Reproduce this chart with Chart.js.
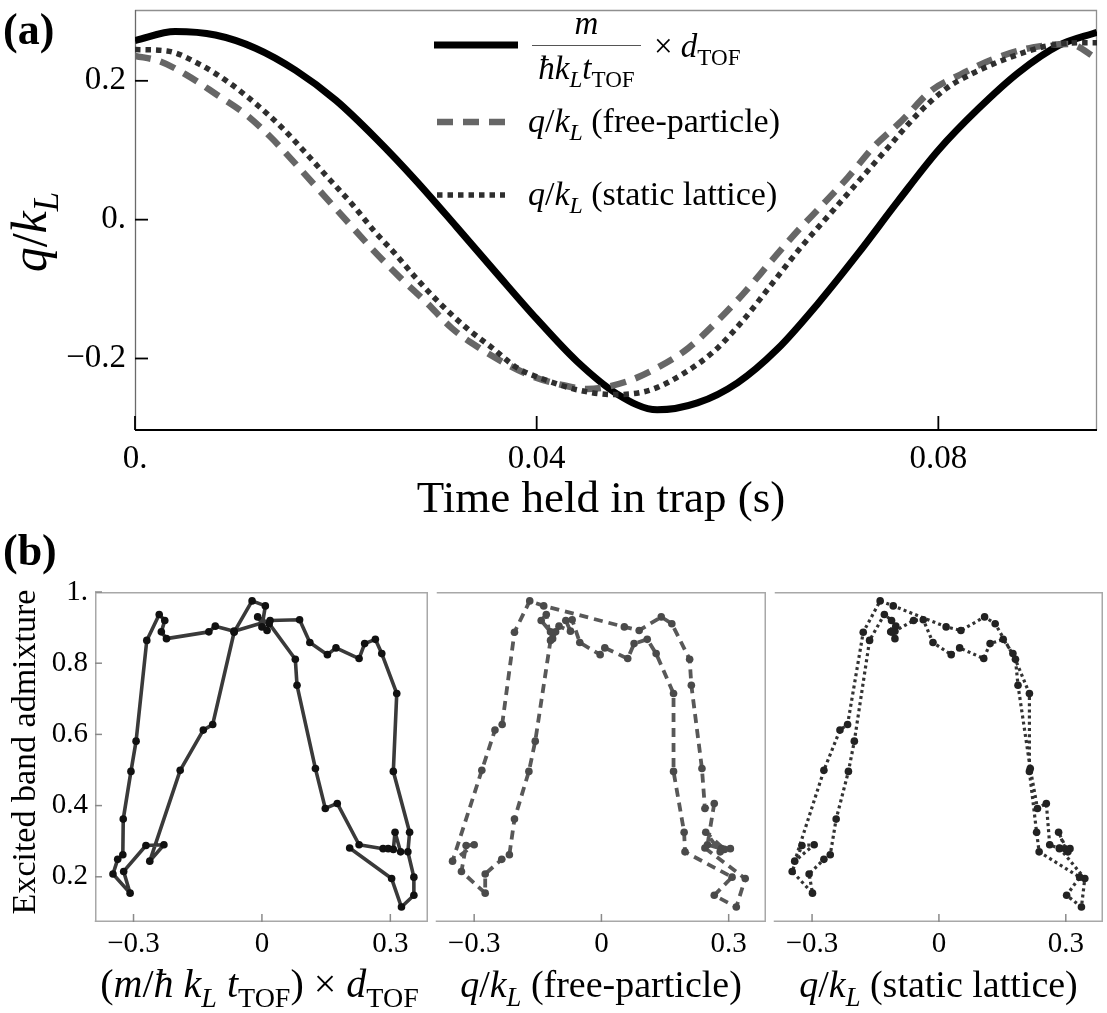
<!DOCTYPE html>
<html>
<head>
<meta charset="utf-8">
<script src="https://cdn.jsdelivr.net/npm/chart.js@4.4.1/dist/chart.umd.min.js"></script>
<style>
  html, body { margin: 0; padding: 0; background: #fff; }
  #figure { position: relative; width: 1107px; height: 1013px; overflow: hidden; background: #fff; }
  #figure canvas { position: absolute; }
</style>
</head>
<body>
<div id="figure">
  <canvas id="panelA"></canvas>
  <canvas id="panelB1"></canvas>
  <canvas id="panelB2"></canvas>
  <canvas id="panelB3"></canvas>
</div>
<script>
// ---------- (a) quasimomentum versus hold time ----------
const tofTime = [0, 0.004, 0.008, 0.012, 0.016, 0.020, 0.024, 0.028, 0.032, 0.036, 0.040, 0.044, 0.048,
  0.052, 0.056, 0.060, 0.064, 0.068, 0.072, 0.076, 0.080, 0.084, 0.088, 0.092, 0.0958];
const tofQ = [0.258, 0.271, 0.266, 0.247, 0.215, 0.172, 0.117, 0.056, -0.010, -0.077, -0.143, -0.204, -0.251,
  -0.274, -0.264, -0.235, -0.186, -0.121, -0.049, 0.027, 0.100, 0.160, 0.212, 0.251, 0.270];

const freeTime = [0, 0.0025, 0.00495, 0.00815, 0.011, 0.0135, 0.0162, 0.0188, 0.0211, 0.0236, 0.0263, 0.029,
  0.0316, 0.0343, 0.037, 0.0398, 0.0425, 0.045, 0.049, 0.0523, 0.0551, 0.058, 0.0605, 0.0634, 0.066, 0.0685,
  0.071, 0.0735, 0.0764, 0.0793, 0.0822, 0.0854, 0.0894, 0.093, 0.0958];
const freeQ = [0.236, 0.228, 0.210, 0.180, 0.152, 0.119, 0.077, 0.035, -0.002, -0.042, -0.082, -0.119,
  -0.157, -0.185, -0.208, -0.227, -0.238, -0.244, -0.233, -0.211, -0.185, -0.146, -0.108, -0.059, -0.016, 0.022,
  0.061, 0.104, 0.143, 0.186, 0.209, 0.231, 0.248, 0.253, 0.232];

const latticeTime = [0, 0.0032, 0.0064, 0.0092, 0.0121, 0.0146, 0.017, 0.0195, 0.0217, 0.0238, 0.0259, 0.0281,
  0.0306, 0.0331, 0.0356, 0.038, 0.0409, 0.044, 0.0476, 0.0512, 0.0548, 0.0577, 0.0605, 0.0634, 0.0663, 0.0692,
  0.0721, 0.075, 0.0778, 0.0807, 0.0836, 0.0872, 0.0908, 0.0944, 0.0958];
const latticeQ = [0.245, 0.243, 0.224, 0.199, 0.166, 0.133, 0.096, 0.056, 0.021, -0.016, -0.049, -0.086,
  -0.124, -0.157, -0.185, -0.213, -0.231, -0.245, -0.252, -0.246, -0.220, -0.189, -0.146, -0.093, -0.040, 0.008,
  0.056, 0.104, 0.150, 0.188, 0.212, 0.234, 0.250, 0.255, 0.255];

const timeTicks = [0, 0.04, 0.08];
const timeTickLabels = ['0.', '0.04', '0.08'];
const qTicks = [-0.2, 0, 0.2];
const qTickLabels = ['\u22120.2', '0.', '0.2'];

// ---------- (b) excited band admixture, one value per hold time ----------
const admixture = [0.281, 0.195, 0.115, 0.148, 0.199, 0.270, 0.325, 0.496, 0.715, 0.827, 0.867, 0.855, 0.813,
  0.843, 0.824, 0.858, 0.922, 0.920, 0.890, 0.904, 0.888, 0.869, 0.888, 0.920, 0.937, 0.864, 0.581, 0.496,
  0.362, 0.262, 0.249, 0.208, 0.154, 0.215, 0.288, 0.290, 0.244, 0.499, 0.612, 0.628, 0.887, 0.975, 0.961,
  0.902, 0.892, 0.930, 0.911, 0.811, 0.738, 0.504, 0.392, 0.406, 0.290, 0.279, 0.279, 0.277, 0.325, 0.270];
const tofMomentum = [0.205, 0.303, 0.326, 0.355, 0.355, 0.341, 0.345, 0.307, 0.315, 0.280, 0.265, 0.240, 0.227,
  0.173, 0.153, 0.112, 0.088, 0.019, -0.065, -0.109, -0.124, -0.223, -0.235, -0.227, -0.240, -0.269, -0.294, -0.306,
  -0.324, -0.325, -0.337, -0.348, -0.308, -0.323, -0.271, -0.229, -0.262, -0.191, -0.137, -0.115, -0.065, -0.023, 0.008,
  0.000, 0.012, -0.010, 0.017, 0.078, 0.082, 0.125, 0.148, 0.176, 0.227, 0.283, 0.295, 0.307, 0.311, 0.324];
const freeMomentum = [0.244, 0.339, 0.318, 0.266, 0.308, 0.197, 0.195, 0.170, 0.170, 0.129, 0.108, 0.077, 0.062,
  0.008, -0.003, -0.051, -0.069, -0.084, -0.073, -0.100, -0.108, -0.115, -0.120, -0.142, -0.130, -0.120, -0.156, -0.171,
  -0.205, -0.217, -0.235, -0.274, -0.274, -0.330, -0.319, -0.300, -0.351, -0.282, -0.251, -0.234, -0.205, -0.169, -0.136,
  0.054, 0.089, 0.141, 0.166, 0.208, 0.212, 0.237, 0.244, 0.266, 0.250, 0.283, 0.304, 0.290, 0.246, 0.280];
const latticeMomentum = [0.285, 0.345, 0.337, 0.302, 0.333, 0.237, 0.231, 0.214, 0.214, 0.175, 0.152, 0.121, 0.106,
  0.049, 0.029, -0.014, -0.037, -0.060, -0.104, -0.102, -0.114, -0.104, -0.112, -0.112, -0.129, -0.164, -0.200, -0.214,
  -0.243, -0.257, -0.272, -0.307, -0.299, -0.347, -0.324, -0.295, -0.341, -0.272, -0.234, -0.216, -0.179, -0.139, -0.108,
  0.017, 0.052, 0.108, 0.133, 0.181, 0.187, 0.216, 0.233, 0.254, 0.262, 0.285, 0.310, 0.300, 0.283, 0.305];

const momentumTicks = [-0.3, 0, 0.3];
const momentumTickLabels = ['\u22120.3', '0', '0.3'];
const admixtureTicks = [0.2, 0.4, 0.6, 0.8, 1.0];
const admixtureTickLabels = ['0.2', '0.4', '0.6', '0.8', '1.'];

// ---------- helpers ----------
const SERIF = '"Liberation Serif", "Times New Roman", serif';

function pairs(xs, ys) { return xs.map((x, i) => ({ x, y: ys[i] })); }

// Draws a run of text pieces: [text, style] where style may contain
// 'i' (italic), 's' (subscript) and 'b' (bold). Returns the total width.
function drawRuns(ctx, runs, x, y, size, align) {
  const parts = runs.map(([t, st]) => {
    const sub = st.includes('s');
    const fs = sub ? size * 0.7 : size;
    const font = (st.includes('i') ? 'italic ' : '') + (st.includes('b') ? 'bold ' : '') + fs + 'px ' + SERIF;
    ctx.font = font;
    return { t, font, w: ctx.measureText(t).width, dy: sub ? size * 0.24 : 0 };
  });
  const total = parts.reduce((s, p) => s + p.w, 0);
  let cx = align === 'center' ? x - total / 2 : align === 'right' ? x - total : x;
  ctx.textAlign = 'left';
  ctx.textBaseline = 'alphabetic';
  ctx.fillStyle = '#000';
  for (const p of parts) { ctx.font = p.font; ctx.fillText(p.t, cx, y + p.dy); cx += p.w; }
  return total;
}

function seg(ctx, x1, y1, x2, y2) { ctx.beginPath(); ctx.moveTo(x1, y1); ctx.lineTo(x2, y2); ctx.stroke(); }

function placeCanvas(id, left, top, w, h) {
  const c = document.getElementById(id);
  c.width = w; c.height = h;
  c.style.left = left + 'px'; c.style.top = top + 'px';
  c.style.width = w + 'px'; c.style.height = h + 'px';
  return c;
}

Chart.defaults.animation = false;
Chart.defaults.font.family = SERIF;
Chart.defaults.color = '#000';

// ---------- (a) ----------
const qRuns = [['q', 'i'], ['/', ''], ['k', 'i'], ['L', 'is']];

const panelADecor = {
  id: 'panelADecor',
  beforeDatasetsDraw(chart) {
    const { ctx, chartArea: a, scales: { x, y } } = chart;
    ctx.save();
    ctx.lineCap = 'butt';
    ctx.strokeStyle = '#8f8f8f'; ctx.lineWidth = 1.3;
    ctx.beginPath(); ctx.moveTo(a.left, a.top + 0.5); ctx.lineTo(a.right - 0.5, a.top + 0.5); ctx.lineTo(a.right - 0.5, a.bottom); ctx.stroke();
    ctx.strokeStyle = '#6a6a6a'; ctx.lineWidth = 1.3;
    seg(ctx, a.left + 0.5, a.top, a.left + 0.5, a.bottom);
    ctx.strokeStyle = '#000'; ctx.lineWidth = 1.8;
    seg(ctx, a.left, a.bottom, a.right, a.bottom);
    for (const v of qTicks) { const py = y.getPixelForValue(v); seg(ctx, a.left, py, a.left + 13, py); }
    for (const v of timeTicks) { const px = x.getPixelForValue(v); seg(ctx, px, a.bottom, px, a.bottom - 14); }
    ctx.restore();
  },
  afterDraw(chart) {
    const { ctx } = chart;
    const ds = chart.data.datasets;
    ctx.save();
    drawRuns(ctx, [['(a)', 'b']], 3, 44, 44, 'left');
    // axis titles
    drawRuns(ctx, [['Time held in trap (s)', '']], 601, 512, 45, 'center');
    ctx.save();
    ctx.translate(46, 232); ctx.rotate(-Math.PI / 2);
    drawRuns(ctx, qRuns, 0, 0, 50, 'center');
    ctx.restore();
    // legend: line samples drawn with each series' own style
    const rows = [
      { d: ds.find(s => s.key === 'tof'), x1: 434, x2: 518, y: 45 },
      { d: ds.find(s => s.key === 'free'), x1: 437, x2: 505, y: 122 },
      { d: ds.find(s => s.key === 'lattice'), x1: 437, x2: 505, y: 195 }
    ];
    for (const r of rows) {
      ctx.strokeStyle = r.d.borderColor; ctx.lineWidth = r.d.borderWidth;
      ctx.setLineDash(r.d.borderDash || []); ctx.lineCap = 'butt';
      seg(ctx, r.x1, r.y, r.x2, r.y);
    }
    ctx.setLineDash([]);
    // fraction  m / (ħ k_L t_TOF)  × d_TOF
    const fs = 33;
    const denom = [['\u0127', 'i'], ['k', 'i'], ['L', 'is'], ['t', 'i'], ['TOF', 's']];
    const barL = 532, barR = 641;
    ctx.strokeStyle = '#555'; ctx.lineWidth = 1.2;
    seg(ctx, barL, 45.5, barR, 45.5);
    drawRuns(ctx, [['m', 'i']], (barL + barR) / 2, 34, fs, 'center');
    drawRuns(ctx, denom, (barL + barR) / 2, 79, fs, 'center');
    drawRuns(ctx, [['\u00d7 ', ''], ['d', 'i'], ['TOF', 's']], 654, 57, fs, 'left');
    drawRuns(ctx, qRuns.concat([[' (free-particle)', '']]), 528, 132, 34, 'left');
    drawRuns(ctx, qRuns.concat([[' (static lattice)', '']]), 528, 205, 34, 'left');
    ctx.restore();
  }
};

placeCanvas('panelA', 0, 0, 1107, 530);
new Chart(document.getElementById('panelA'), {
  type: 'scatter',
  data: {
    datasets: [
      { key: 'lattice', data: pairs(latticeTime, latticeQ), showLine: true, pointRadius: 0,
        borderColor: '#2e2e2e', borderWidth: 5.5, borderDash: [5.5, 5], cubicInterpolationMode: 'monotone' },
      { key: 'free', data: pairs(freeTime, freeQ), showLine: true, pointRadius: 0,
        borderColor: '#666666', borderWidth: 6.5, borderDash: [16, 10], cubicInterpolationMode: 'monotone' },
      { key: 'tof', data: pairs(tofTime, tofQ), showLine: true, pointRadius: 0,
        borderColor: '#000000', borderWidth: 7, cubicInterpolationMode: 'monotone' }
    ]
  },
  options: {
    responsive: false,
    layout: { padding: { left: 0, right: 10, top: 10, bottom: 0 } },
    plugins: { legend: { display: false }, tooltip: { enabled: false } },
    scales: {
      x: {
        type: 'linear', min: 0, max: 0.0958,
        grid: { display: false, drawTicks: false }, border: { display: false },
        afterBuildTicks: s => { s.ticks = timeTicks.map(v => ({ value: v })); },
        afterFit: s => { s.height = 100; },
        ticks: { autoSkip: false, maxRotation: 0, padding: 10, color: '#000',
          font: { size: 33, family: SERIF },
          callback: v => timeTickLabels[timeTicks.indexOf(v)] }
      },
      y: {
        type: 'linear', min: -0.303, max: 0.302,
        grid: { display: false, drawTicks: false }, border: { display: false },
        afterBuildTicks: s => { s.ticks = qTicks.map(v => ({ value: v })); },
        afterFit: s => { s.width = 135; s.paddingTop = 0; s.paddingBottom = 0; },
        ticks: { autoSkip: false, padding: 9, color: '#000',
          font: { size: 33, family: SERIF, lineHeight: 0.05 },
          callback: v => qTickLabels[qTicks.indexOf(v)] }
      }
    }
  },
  plugins: [panelADecor]
});

// ---------- (b) ----------
function panelBDecor(opts) {
  return {
    id: 'panelBDecor',
    beforeDatasetsDraw(chart) {
      const { ctx, chartArea: a, scales: { x, y } } = chart;
      ctx.save();
      ctx.strokeStyle = '#a8a8a8'; ctx.lineWidth = 1.5;
      const L = a.left + 0.75, R = a.right - 0.75, T = a.top + 0.75, B = a.bottom - 0.75;
      ctx.beginPath();
      ctx.moveTo(L, T); ctx.lineTo(R, T); ctx.lineTo(R, B); ctx.lineTo(L - 1, B);
      if (opts.showY) { ctx.moveTo(L, T); ctx.lineTo(L, B); }
      ctx.stroke();
      ctx.strokeStyle = '#8a8a8a'; ctx.lineWidth = 1.5;
      for (const v of momentumTicks) { const px = x.getPixelForValue(v); seg(ctx, px, a.bottom, px, a.bottom - 8); }
      if (opts.showY) {
        for (const v of admixtureTicks) { const py = y.getPixelForValue(v); seg(ctx, a.left, py, a.left + 7, py); }
      }
      ctx.restore();
    },
    afterDraw(chart) {
      const { ctx, chartArea: a } = chart;
      ctx.save();
      drawRuns(ctx, opts.title, (a.left + a.right) / 2 + (opts.shift || 0), 472, opts.size || 38, 'center');
      if (opts.showY) {
        drawRuns(ctx, [['(b)', 'b']], 3, 40, 44, 'left');
        ctx.save();
        ctx.translate(35, 227); ctx.rotate(-Math.PI / 2);
        drawRuns(ctx, [['Excited band admixture', '']], 0, 0, 34, 'center');
        ctx.restore();
      }
      ctx.restore();
    }
  };
}

function makePanelB(id, left, width, xs, style, deco) {
  const showY = deco.showY;
  placeCanvas(id, left, 525, width, 488);
  return new Chart(document.getElementById(id), {
    type: 'scatter',
    data: {
      datasets: [{
        data: pairs(xs, admixture), showLine: true, tension: 0,
        borderColor: style.line, borderWidth: style.width, borderDash: style.dash,
        borderJoinStyle: 'round', borderCapStyle: 'butt',
        pointRadius: 3.8, pointBackgroundColor: style.point, pointBorderWidth: 0
      }]
    },
    options: {
      responsive: false,
      layout: { padding: { left: 0, right: 0, top: 67, bottom: 0 } },
      plugins: { legend: { display: false }, tooltip: { enabled: false } },
      scales: {
        x: {
          type: 'linear', min: -0.39, max: 0.388,
          grid: { display: false, drawTicks: false }, border: { display: false },
          afterBuildTicks: s => { s.ticks = momentumTicks.map(v => ({ value: v })); },
          afterFit: s => { s.height = 91; },
          ticks: { autoSkip: false, maxRotation: 0, padding: 5, color: '#000',
            font: { size: 29, family: SERIF },
            callback: v => momentumTickLabels[momentumTicks.indexOf(v)] }
        },
        y: {
          type: 'linear', min: 0.073, max: 1.0, display: showY,
          grid: { display: false, drawTicks: false }, border: { display: false },
          afterBuildTicks: s => { s.ticks = admixtureTicks.map(v => ({ value: v })); },
          afterFit: s => { s.width = showY ? 95 : 0; },
          ticks: { autoSkip: false, padding: 7, color: '#000',
            font: { size: 29, family: SERIF },
            callback: v => admixtureTickLabels[admixtureTicks.indexOf(v)] }
        }
      }
    },
    plugins: [panelBDecor(deco)]
  });
}

makePanelB('panelB1', 0, 432, tofMomentum,
  { line: '#3a3a3a', point: '#111', width: 3.6, dash: [] },
  { showY: true, shift: -2, size: 40,
    title: [['(', ''], ['m', 'i'], ['/', ''], ['\u0127', 'i'], [' k', 'i'], ['L', 'is'], [' t', 'i'], ['TOF', 's'], [') \u00d7 ', ''], ['d', 'i'], ['TOF', 's']] });
makePanelB('panelB2', 432, 338, freeMomentum,
  { line: '#585858', point: '#4a4a4a', width: 3.8, dash: [9, 6] },
  { showY: false, title: qRuns.concat([[' (free-particle)', '']]) });
makePanelB('panelB3', 770, 337, latticeMomentum,
  { line: '#333333', point: '#222', width: 3.2, dash: [3, 3.2] },
  { showY: false, title: qRuns.concat([[' (static lattice)', '']]) });
</script>
</body>
</html>
